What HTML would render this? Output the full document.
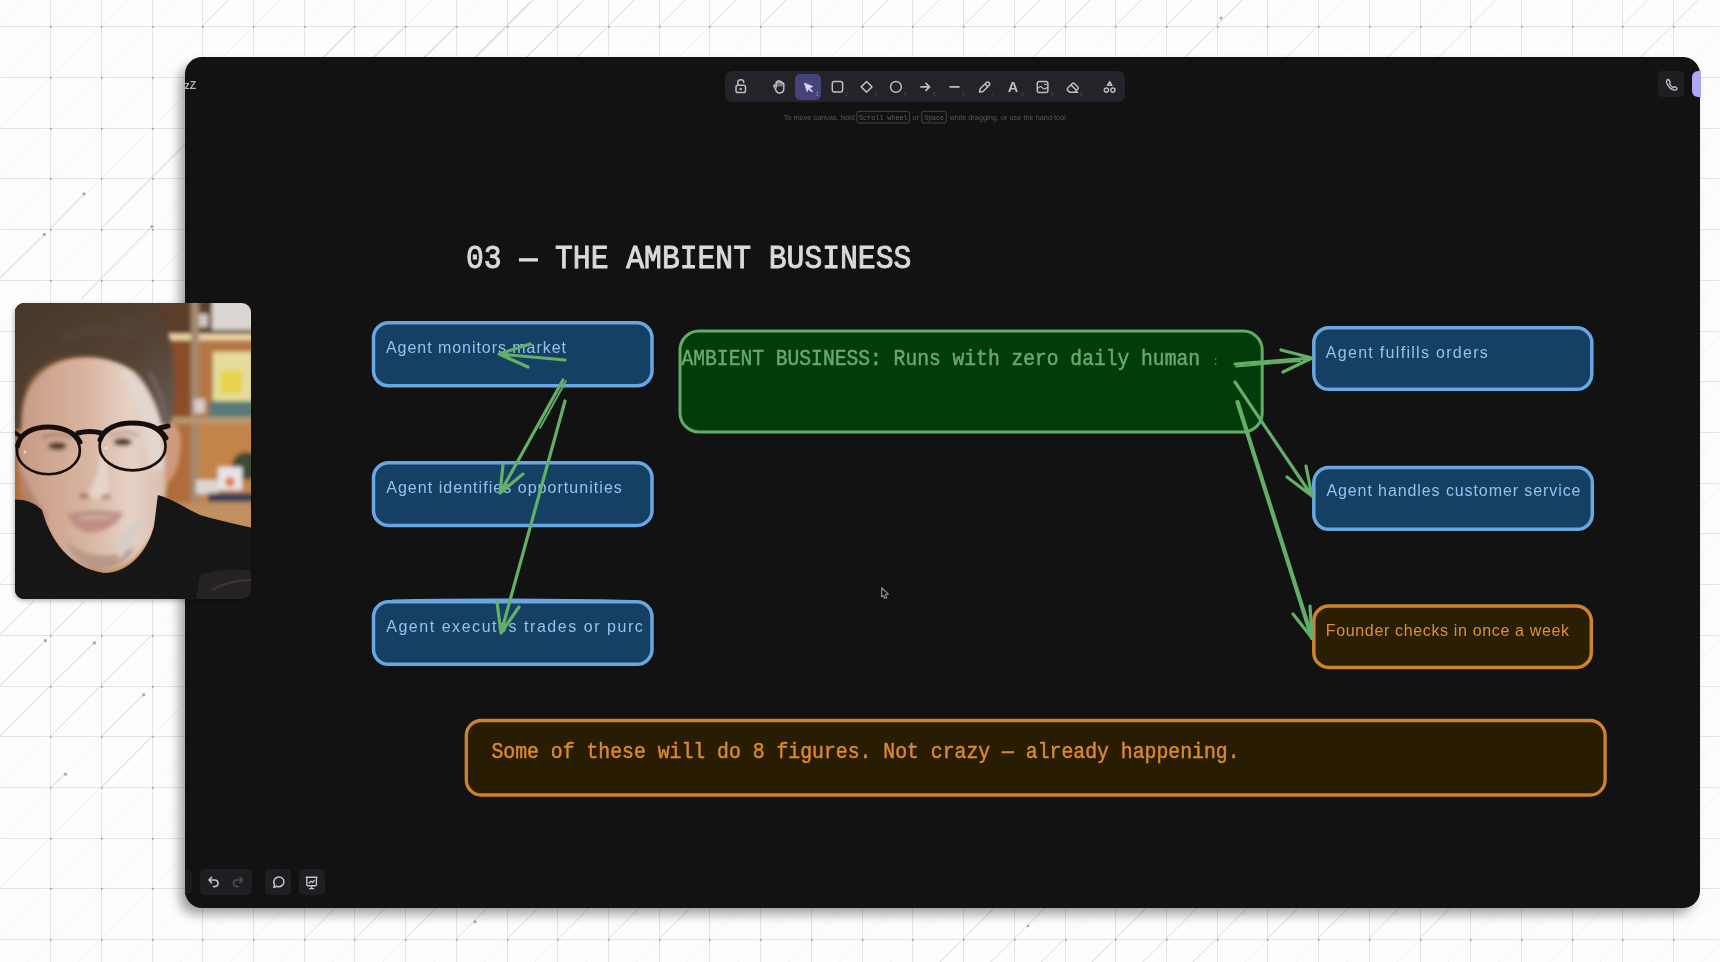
<!DOCTYPE html>
<html><head><meta charset="utf-8">
<style>
html,body{margin:0;padding:0;}
body{width:1720px;height:962px;overflow:hidden;position:relative;background:#fdfdfd;font-family:"Liberation Sans",sans-serif;}
.abs{position:absolute;}
svg{position:absolute;left:0;top:0;will-change:transform;}
#panel{position:absolute;left:185px;top:57px;width:1515px;height:851px;border-radius:17px;background:#121212;box-shadow:-6px 7px 12px -1px rgba(0,0,0,0.38);}
.island{position:absolute;background:#1f1f23;border-radius:4.5px;}
.mono{font-family:"Liberation Mono",monospace;}
.hand{font-family:"Liberation Sans",sans-serif;font-size:18px;}
</style></head>
<body>
<!-- BACKGROUND GRID -->
<svg width="1720" height="962">
  <g stroke="#f3f3f3" stroke-width="1" fill="none"><path d="M-1951.95 0L-2913.95 962"/><path d="M-1901.23 0L-2863.23 962"/><path d="M-1850.51 0L-2812.51 962"/><path d="M-1799.79 0L-2761.79 962"/><path d="M-1749.07 0L-2711.07 962"/><path d="M-1698.35 0L-2660.35 962"/><path d="M-1647.63 0L-2609.63 962"/><path d="M-1596.91 0L-2558.91 962"/><path d="M-1546.19 0L-2508.19 962"/><path d="M-1495.47 0L-2457.47 962"/><path d="M-1444.75 0L-2406.75 962"/><path d="M-1394.03 0L-2356.03 962"/><path d="M-1343.31 0L-2305.31 962"/><path d="M-1292.59 0L-2254.59 962"/><path d="M-1241.87 0L-2203.87 962"/><path d="M-1191.15 0L-2153.15 962"/><path d="M-1140.43 0L-2102.43 962"/><path d="M-1089.71 0L-2051.71 962"/><path d="M-1038.99 0L-2000.99 962"/><path d="M-988.27 0L-1950.27 962"/><path d="M-937.55 0L-1899.55 962"/><path d="M-886.83 0L-1848.83 962"/><path d="M-836.11 0L-1798.11 962"/><path d="M-785.39 0L-1747.39 962"/><path d="M-734.67 0L-1696.67 962"/><path d="M-683.95 0L-1645.95 962"/><path d="M-633.23 0L-1595.23 962"/><path d="M-582.51 0L-1544.51 962"/><path d="M-531.79 0L-1493.79 962"/><path d="M-481.07 0L-1443.07 962"/><path d="M-430.35 0L-1392.35 962"/><path d="M-379.63 0L-1341.63 962"/><path d="M-328.91 0L-1290.91 962"/><path d="M-278.19 0L-1240.19 962"/><path d="M-227.47 0L-1189.47 962"/><path d="M-176.75 0L-1138.75 962"/><path d="M-126.03 0L-1088.03 962"/><path d="M-75.31 0L-1037.31 962"/><path d="M-24.59 0L-986.59 962"/><path d="M26.13 0L-935.87 962"/><path d="M76.85 0L-885.15 962"/><path d="M127.57 0L-834.43 962"/><path d="M178.29 0L-783.71 962"/><path d="M229.01 0L-732.99 962"/><path d="M279.73 0L-682.27 962"/><path d="M330.45 0L-631.55 962"/><path d="M381.17 0L-580.83 962"/><path d="M431.89 0L-530.11 962"/><path d="M482.61 0L-479.39 962"/><path d="M533.33 0L-428.67 962"/><path d="M584.05 0L-377.95 962"/><path d="M634.77 0L-327.23 962"/><path d="M685.49 0L-276.51 962"/><path d="M736.21 0L-225.79 962"/><path d="M786.93 0L-175.07 962"/><path d="M837.65 0L-124.35 962"/><path d="M888.37 0L-73.63 962"/><path d="M939.09 0L-22.91 962"/><path d="M989.81 0L27.81 962"/><path d="M1040.53 0L78.53 962"/><path d="M1091.25 0L129.25 962"/><path d="M1141.97 0L179.97 962"/><path d="M1192.69 0L230.69 962"/><path d="M1243.41 0L281.41 962"/><path d="M1294.13 0L332.13 962"/><path d="M1344.85 0L382.85 962"/><path d="M1395.57 0L433.57 962"/><path d="M1446.29 0L484.29 962"/><path d="M1497.01 0L535.01 962"/><path d="M1547.73 0L585.73 962"/><path d="M1598.45 0L636.45 962"/><path d="M1649.17 0L687.17 962"/><path d="M1699.89 0L737.89 962"/><path d="M1750.61 0L788.61 962"/><path d="M1801.33 0L839.33 962"/><path d="M1852.05 0L890.05 962"/><path d="M1902.77 0L940.77 962"/><path d="M1953.49 0L991.49 962"/><path d="M2004.21 0L1042.21 962"/><path d="M2054.93 0L1092.93 962"/><path d="M2105.65 0L1143.65 962"/><path d="M2156.37 0L1194.37 962"/><path d="M2207.09 0L1245.09 962"/><path d="M2257.81 0L1295.81 962"/><path d="M2308.53 0L1346.53 962"/><path d="M2359.25 0L1397.25 962"/><path d="M2409.97 0L1447.97 962"/><path d="M2460.69 0L1498.69 962"/><path d="M2511.41 0L1549.41 962"/><path d="M2562.13 0L1600.13 962"/><path d="M2612.85 0L1650.85 962"/><path d="M2663.57 0L1701.57 962"/><path d="M2714.29 0L1752.29 962"/><path d="M2765.01 0L1803.01 962"/><path d="M2815.73 0L1853.73 962"/><path d="M2866.45 0L1904.45 962"/><path d="M2917.17 0L1955.17 962"/><path d="M2967.89 0L2005.89 962"/><path d="M3018.61 0L2056.61 962"/><path d="M3069.33 0L2107.33 962"/></g><g stroke="#e4e4e4" stroke-width="1" fill="none"><path d="M50.5 0V962"/><path d="M101.5 0V962"/><path d="M152.5 0V962"/><path d="M202.5 0V962"/><path d="M253.5 0V962"/><path d="M304.5 0V962"/><path d="M354.5 0V962"/><path d="M405.5 0V962"/><path d="M456.5 0V962"/><path d="M507.5 0V962"/><path d="M557.5 0V962"/><path d="M608.5 0V962"/><path d="M659.5 0V962"/><path d="M709.5 0V962"/><path d="M760.5 0V962"/><path d="M811.5 0V962"/><path d="M862.5 0V962"/><path d="M912.5 0V962"/><path d="M963.5 0V962"/><path d="M1014.5 0V962"/><path d="M1065.5 0V962"/><path d="M1115.5 0V962"/><path d="M1166.5 0V962"/><path d="M1217.5 0V962"/><path d="M1267.5 0V962"/><path d="M1318.5 0V962"/><path d="M1369.5 0V962"/><path d="M1420.5 0V962"/><path d="M1470.5 0V962"/><path d="M1521.5 0V962"/><path d="M1572.5 0V962"/><path d="M1622.5 0V962"/><path d="M1673.5 0V962"/><path d="M0 26.5H1720"/><path d="M0 77.5H1720"/><path d="M0 128.5H1720"/><path d="M0 178.5H1720"/><path d="M0 229.5H1720"/><path d="M0 280.5H1720"/><path d="M0 331.5H1720"/><path d="M0 381.5H1720"/><path d="M0 432.5H1720"/><path d="M0 483.5H1720"/><path d="M0 533.5H1720"/><path d="M0 584.5H1720"/><path d="M0 635.5H1720"/><path d="M0 686.5H1720"/><path d="M0 736.5H1720"/><path d="M0 787.5H1720"/><path d="M0 838.5H1720"/><path d="M0 888.5H1720"/><path d="M0 939.5H1720"/></g><g fill="#9a9a9a"><rect x="50.0" y="26.0" width="1.6" height="1.6"/><rect x="50.0" y="77.0" width="1.6" height="1.6"/><rect x="50.0" y="128.0" width="1.6" height="1.6"/><rect x="50.0" y="178.0" width="1.6" height="1.6"/><rect x="50.0" y="229.0" width="1.6" height="1.6"/><rect x="50.0" y="280.0" width="1.6" height="1.6"/><rect x="50.0" y="331.0" width="1.6" height="1.6"/><rect x="50.0" y="381.0" width="1.6" height="1.6"/><rect x="50.0" y="432.0" width="1.6" height="1.6"/><rect x="50.0" y="483.0" width="1.6" height="1.6"/><rect x="50.0" y="533.0" width="1.6" height="1.6"/><rect x="50.0" y="584.0" width="1.6" height="1.6"/><rect x="50.0" y="635.0" width="1.6" height="1.6"/><rect x="50.0" y="686.0" width="1.6" height="1.6"/><rect x="50.0" y="736.0" width="1.6" height="1.6"/><rect x="50.0" y="787.0" width="1.6" height="1.6"/><rect x="50.0" y="838.0" width="1.6" height="1.6"/><rect x="50.0" y="888.0" width="1.6" height="1.6"/><rect x="50.0" y="939.0" width="1.6" height="1.6"/><rect x="101.0" y="26.0" width="1.6" height="1.6"/><rect x="101.0" y="77.0" width="1.6" height="1.6"/><rect x="101.0" y="128.0" width="1.6" height="1.6"/><rect x="101.0" y="178.0" width="1.6" height="1.6"/><rect x="101.0" y="229.0" width="1.6" height="1.6"/><rect x="101.0" y="280.0" width="1.6" height="1.6"/><rect x="101.0" y="331.0" width="1.6" height="1.6"/><rect x="101.0" y="381.0" width="1.6" height="1.6"/><rect x="101.0" y="432.0" width="1.6" height="1.6"/><rect x="101.0" y="483.0" width="1.6" height="1.6"/><rect x="101.0" y="533.0" width="1.6" height="1.6"/><rect x="101.0" y="584.0" width="1.6" height="1.6"/><rect x="101.0" y="635.0" width="1.6" height="1.6"/><rect x="101.0" y="686.0" width="1.6" height="1.6"/><rect x="101.0" y="736.0" width="1.6" height="1.6"/><rect x="101.0" y="787.0" width="1.6" height="1.6"/><rect x="101.0" y="838.0" width="1.6" height="1.6"/><rect x="101.0" y="888.0" width="1.6" height="1.6"/><rect x="101.0" y="939.0" width="1.6" height="1.6"/><rect x="152.0" y="26.0" width="1.6" height="1.6"/><rect x="152.0" y="77.0" width="1.6" height="1.6"/><rect x="152.0" y="128.0" width="1.6" height="1.6"/><rect x="152.0" y="178.0" width="1.6" height="1.6"/><rect x="152.0" y="229.0" width="1.6" height="1.6"/><rect x="152.0" y="280.0" width="1.6" height="1.6"/><rect x="152.0" y="331.0" width="1.6" height="1.6"/><rect x="152.0" y="381.0" width="1.6" height="1.6"/><rect x="152.0" y="432.0" width="1.6" height="1.6"/><rect x="152.0" y="483.0" width="1.6" height="1.6"/><rect x="152.0" y="533.0" width="1.6" height="1.6"/><rect x="152.0" y="584.0" width="1.6" height="1.6"/><rect x="152.0" y="635.0" width="1.6" height="1.6"/><rect x="152.0" y="686.0" width="1.6" height="1.6"/><rect x="152.0" y="736.0" width="1.6" height="1.6"/><rect x="152.0" y="787.0" width="1.6" height="1.6"/><rect x="152.0" y="838.0" width="1.6" height="1.6"/><rect x="152.0" y="888.0" width="1.6" height="1.6"/><rect x="152.0" y="939.0" width="1.6" height="1.6"/><rect x="202.0" y="26.0" width="1.6" height="1.6"/><rect x="202.0" y="77.0" width="1.6" height="1.6"/><rect x="202.0" y="128.0" width="1.6" height="1.6"/><rect x="202.0" y="178.0" width="1.6" height="1.6"/><rect x="202.0" y="229.0" width="1.6" height="1.6"/><rect x="202.0" y="280.0" width="1.6" height="1.6"/><rect x="202.0" y="331.0" width="1.6" height="1.6"/><rect x="202.0" y="381.0" width="1.6" height="1.6"/><rect x="202.0" y="432.0" width="1.6" height="1.6"/><rect x="202.0" y="483.0" width="1.6" height="1.6"/><rect x="202.0" y="533.0" width="1.6" height="1.6"/><rect x="202.0" y="584.0" width="1.6" height="1.6"/><rect x="202.0" y="635.0" width="1.6" height="1.6"/><rect x="202.0" y="686.0" width="1.6" height="1.6"/><rect x="202.0" y="736.0" width="1.6" height="1.6"/><rect x="202.0" y="787.0" width="1.6" height="1.6"/><rect x="202.0" y="838.0" width="1.6" height="1.6"/><rect x="202.0" y="888.0" width="1.6" height="1.6"/><rect x="202.0" y="939.0" width="1.6" height="1.6"/><rect x="253.0" y="26.0" width="1.6" height="1.6"/><rect x="253.0" y="77.0" width="1.6" height="1.6"/><rect x="253.0" y="128.0" width="1.6" height="1.6"/><rect x="253.0" y="178.0" width="1.6" height="1.6"/><rect x="253.0" y="229.0" width="1.6" height="1.6"/><rect x="253.0" y="280.0" width="1.6" height="1.6"/><rect x="253.0" y="331.0" width="1.6" height="1.6"/><rect x="253.0" y="381.0" width="1.6" height="1.6"/><rect x="253.0" y="432.0" width="1.6" height="1.6"/><rect x="253.0" y="483.0" width="1.6" height="1.6"/><rect x="253.0" y="533.0" width="1.6" height="1.6"/><rect x="253.0" y="584.0" width="1.6" height="1.6"/><rect x="253.0" y="635.0" width="1.6" height="1.6"/><rect x="253.0" y="686.0" width="1.6" height="1.6"/><rect x="253.0" y="736.0" width="1.6" height="1.6"/><rect x="253.0" y="787.0" width="1.6" height="1.6"/><rect x="253.0" y="838.0" width="1.6" height="1.6"/><rect x="253.0" y="888.0" width="1.6" height="1.6"/><rect x="253.0" y="939.0" width="1.6" height="1.6"/><rect x="304.0" y="26.0" width="1.6" height="1.6"/><rect x="304.0" y="77.0" width="1.6" height="1.6"/><rect x="304.0" y="128.0" width="1.6" height="1.6"/><rect x="304.0" y="178.0" width="1.6" height="1.6"/><rect x="304.0" y="229.0" width="1.6" height="1.6"/><rect x="304.0" y="280.0" width="1.6" height="1.6"/><rect x="304.0" y="331.0" width="1.6" height="1.6"/><rect x="304.0" y="381.0" width="1.6" height="1.6"/><rect x="304.0" y="432.0" width="1.6" height="1.6"/><rect x="304.0" y="483.0" width="1.6" height="1.6"/><rect x="304.0" y="533.0" width="1.6" height="1.6"/><rect x="304.0" y="584.0" width="1.6" height="1.6"/><rect x="304.0" y="635.0" width="1.6" height="1.6"/><rect x="304.0" y="686.0" width="1.6" height="1.6"/><rect x="304.0" y="736.0" width="1.6" height="1.6"/><rect x="304.0" y="787.0" width="1.6" height="1.6"/><rect x="304.0" y="838.0" width="1.6" height="1.6"/><rect x="304.0" y="888.0" width="1.6" height="1.6"/><rect x="304.0" y="939.0" width="1.6" height="1.6"/><rect x="354.0" y="26.0" width="1.6" height="1.6"/><rect x="354.0" y="77.0" width="1.6" height="1.6"/><rect x="354.0" y="128.0" width="1.6" height="1.6"/><rect x="354.0" y="178.0" width="1.6" height="1.6"/><rect x="354.0" y="229.0" width="1.6" height="1.6"/><rect x="354.0" y="280.0" width="1.6" height="1.6"/><rect x="354.0" y="331.0" width="1.6" height="1.6"/><rect x="354.0" y="381.0" width="1.6" height="1.6"/><rect x="354.0" y="432.0" width="1.6" height="1.6"/><rect x="354.0" y="483.0" width="1.6" height="1.6"/><rect x="354.0" y="533.0" width="1.6" height="1.6"/><rect x="354.0" y="584.0" width="1.6" height="1.6"/><rect x="354.0" y="635.0" width="1.6" height="1.6"/><rect x="354.0" y="686.0" width="1.6" height="1.6"/><rect x="354.0" y="736.0" width="1.6" height="1.6"/><rect x="354.0" y="787.0" width="1.6" height="1.6"/><rect x="354.0" y="838.0" width="1.6" height="1.6"/><rect x="354.0" y="888.0" width="1.6" height="1.6"/><rect x="354.0" y="939.0" width="1.6" height="1.6"/><rect x="405.0" y="26.0" width="1.6" height="1.6"/><rect x="405.0" y="77.0" width="1.6" height="1.6"/><rect x="405.0" y="128.0" width="1.6" height="1.6"/><rect x="405.0" y="178.0" width="1.6" height="1.6"/><rect x="405.0" y="229.0" width="1.6" height="1.6"/><rect x="405.0" y="280.0" width="1.6" height="1.6"/><rect x="405.0" y="331.0" width="1.6" height="1.6"/><rect x="405.0" y="381.0" width="1.6" height="1.6"/><rect x="405.0" y="432.0" width="1.6" height="1.6"/><rect x="405.0" y="483.0" width="1.6" height="1.6"/><rect x="405.0" y="533.0" width="1.6" height="1.6"/><rect x="405.0" y="584.0" width="1.6" height="1.6"/><rect x="405.0" y="635.0" width="1.6" height="1.6"/><rect x="405.0" y="686.0" width="1.6" height="1.6"/><rect x="405.0" y="736.0" width="1.6" height="1.6"/><rect x="405.0" y="787.0" width="1.6" height="1.6"/><rect x="405.0" y="838.0" width="1.6" height="1.6"/><rect x="405.0" y="888.0" width="1.6" height="1.6"/><rect x="405.0" y="939.0" width="1.6" height="1.6"/><rect x="456.0" y="26.0" width="1.6" height="1.6"/><rect x="456.0" y="77.0" width="1.6" height="1.6"/><rect x="456.0" y="128.0" width="1.6" height="1.6"/><rect x="456.0" y="178.0" width="1.6" height="1.6"/><rect x="456.0" y="229.0" width="1.6" height="1.6"/><rect x="456.0" y="280.0" width="1.6" height="1.6"/><rect x="456.0" y="331.0" width="1.6" height="1.6"/><rect x="456.0" y="381.0" width="1.6" height="1.6"/><rect x="456.0" y="432.0" width="1.6" height="1.6"/><rect x="456.0" y="483.0" width="1.6" height="1.6"/><rect x="456.0" y="533.0" width="1.6" height="1.6"/><rect x="456.0" y="584.0" width="1.6" height="1.6"/><rect x="456.0" y="635.0" width="1.6" height="1.6"/><rect x="456.0" y="686.0" width="1.6" height="1.6"/><rect x="456.0" y="736.0" width="1.6" height="1.6"/><rect x="456.0" y="787.0" width="1.6" height="1.6"/><rect x="456.0" y="838.0" width="1.6" height="1.6"/><rect x="456.0" y="888.0" width="1.6" height="1.6"/><rect x="456.0" y="939.0" width="1.6" height="1.6"/><rect x="507.0" y="26.0" width="1.6" height="1.6"/><rect x="507.0" y="77.0" width="1.6" height="1.6"/><rect x="507.0" y="128.0" width="1.6" height="1.6"/><rect x="507.0" y="178.0" width="1.6" height="1.6"/><rect x="507.0" y="229.0" width="1.6" height="1.6"/><rect x="507.0" y="280.0" width="1.6" height="1.6"/><rect x="507.0" y="331.0" width="1.6" height="1.6"/><rect x="507.0" y="381.0" width="1.6" height="1.6"/><rect x="507.0" y="432.0" width="1.6" height="1.6"/><rect x="507.0" y="483.0" width="1.6" height="1.6"/><rect x="507.0" y="533.0" width="1.6" height="1.6"/><rect x="507.0" y="584.0" width="1.6" height="1.6"/><rect x="507.0" y="635.0" width="1.6" height="1.6"/><rect x="507.0" y="686.0" width="1.6" height="1.6"/><rect x="507.0" y="736.0" width="1.6" height="1.6"/><rect x="507.0" y="787.0" width="1.6" height="1.6"/><rect x="507.0" y="838.0" width="1.6" height="1.6"/><rect x="507.0" y="888.0" width="1.6" height="1.6"/><rect x="507.0" y="939.0" width="1.6" height="1.6"/><rect x="557.0" y="26.0" width="1.6" height="1.6"/><rect x="557.0" y="77.0" width="1.6" height="1.6"/><rect x="557.0" y="128.0" width="1.6" height="1.6"/><rect x="557.0" y="178.0" width="1.6" height="1.6"/><rect x="557.0" y="229.0" width="1.6" height="1.6"/><rect x="557.0" y="280.0" width="1.6" height="1.6"/><rect x="557.0" y="331.0" width="1.6" height="1.6"/><rect x="557.0" y="381.0" width="1.6" height="1.6"/><rect x="557.0" y="432.0" width="1.6" height="1.6"/><rect x="557.0" y="483.0" width="1.6" height="1.6"/><rect x="557.0" y="533.0" width="1.6" height="1.6"/><rect x="557.0" y="584.0" width="1.6" height="1.6"/><rect x="557.0" y="635.0" width="1.6" height="1.6"/><rect x="557.0" y="686.0" width="1.6" height="1.6"/><rect x="557.0" y="736.0" width="1.6" height="1.6"/><rect x="557.0" y="787.0" width="1.6" height="1.6"/><rect x="557.0" y="838.0" width="1.6" height="1.6"/><rect x="557.0" y="888.0" width="1.6" height="1.6"/><rect x="557.0" y="939.0" width="1.6" height="1.6"/><rect x="608.0" y="26.0" width="1.6" height="1.6"/><rect x="608.0" y="77.0" width="1.6" height="1.6"/><rect x="608.0" y="128.0" width="1.6" height="1.6"/><rect x="608.0" y="178.0" width="1.6" height="1.6"/><rect x="608.0" y="229.0" width="1.6" height="1.6"/><rect x="608.0" y="280.0" width="1.6" height="1.6"/><rect x="608.0" y="331.0" width="1.6" height="1.6"/><rect x="608.0" y="381.0" width="1.6" height="1.6"/><rect x="608.0" y="432.0" width="1.6" height="1.6"/><rect x="608.0" y="483.0" width="1.6" height="1.6"/><rect x="608.0" y="533.0" width="1.6" height="1.6"/><rect x="608.0" y="584.0" width="1.6" height="1.6"/><rect x="608.0" y="635.0" width="1.6" height="1.6"/><rect x="608.0" y="686.0" width="1.6" height="1.6"/><rect x="608.0" y="736.0" width="1.6" height="1.6"/><rect x="608.0" y="787.0" width="1.6" height="1.6"/><rect x="608.0" y="838.0" width="1.6" height="1.6"/><rect x="608.0" y="888.0" width="1.6" height="1.6"/><rect x="608.0" y="939.0" width="1.6" height="1.6"/><rect x="659.0" y="26.0" width="1.6" height="1.6"/><rect x="659.0" y="77.0" width="1.6" height="1.6"/><rect x="659.0" y="128.0" width="1.6" height="1.6"/><rect x="659.0" y="178.0" width="1.6" height="1.6"/><rect x="659.0" y="229.0" width="1.6" height="1.6"/><rect x="659.0" y="280.0" width="1.6" height="1.6"/><rect x="659.0" y="331.0" width="1.6" height="1.6"/><rect x="659.0" y="381.0" width="1.6" height="1.6"/><rect x="659.0" y="432.0" width="1.6" height="1.6"/><rect x="659.0" y="483.0" width="1.6" height="1.6"/><rect x="659.0" y="533.0" width="1.6" height="1.6"/><rect x="659.0" y="584.0" width="1.6" height="1.6"/><rect x="659.0" y="635.0" width="1.6" height="1.6"/><rect x="659.0" y="686.0" width="1.6" height="1.6"/><rect x="659.0" y="736.0" width="1.6" height="1.6"/><rect x="659.0" y="787.0" width="1.6" height="1.6"/><rect x="659.0" y="838.0" width="1.6" height="1.6"/><rect x="659.0" y="888.0" width="1.6" height="1.6"/><rect x="659.0" y="939.0" width="1.6" height="1.6"/><rect x="709.0" y="26.0" width="1.6" height="1.6"/><rect x="709.0" y="77.0" width="1.6" height="1.6"/><rect x="709.0" y="128.0" width="1.6" height="1.6"/><rect x="709.0" y="178.0" width="1.6" height="1.6"/><rect x="709.0" y="229.0" width="1.6" height="1.6"/><rect x="709.0" y="280.0" width="1.6" height="1.6"/><rect x="709.0" y="331.0" width="1.6" height="1.6"/><rect x="709.0" y="381.0" width="1.6" height="1.6"/><rect x="709.0" y="432.0" width="1.6" height="1.6"/><rect x="709.0" y="483.0" width="1.6" height="1.6"/><rect x="709.0" y="533.0" width="1.6" height="1.6"/><rect x="709.0" y="584.0" width="1.6" height="1.6"/><rect x="709.0" y="635.0" width="1.6" height="1.6"/><rect x="709.0" y="686.0" width="1.6" height="1.6"/><rect x="709.0" y="736.0" width="1.6" height="1.6"/><rect x="709.0" y="787.0" width="1.6" height="1.6"/><rect x="709.0" y="838.0" width="1.6" height="1.6"/><rect x="709.0" y="888.0" width="1.6" height="1.6"/><rect x="709.0" y="939.0" width="1.6" height="1.6"/><rect x="760.0" y="26.0" width="1.6" height="1.6"/><rect x="760.0" y="77.0" width="1.6" height="1.6"/><rect x="760.0" y="128.0" width="1.6" height="1.6"/><rect x="760.0" y="178.0" width="1.6" height="1.6"/><rect x="760.0" y="229.0" width="1.6" height="1.6"/><rect x="760.0" y="280.0" width="1.6" height="1.6"/><rect x="760.0" y="331.0" width="1.6" height="1.6"/><rect x="760.0" y="381.0" width="1.6" height="1.6"/><rect x="760.0" y="432.0" width="1.6" height="1.6"/><rect x="760.0" y="483.0" width="1.6" height="1.6"/><rect x="760.0" y="533.0" width="1.6" height="1.6"/><rect x="760.0" y="584.0" width="1.6" height="1.6"/><rect x="760.0" y="635.0" width="1.6" height="1.6"/><rect x="760.0" y="686.0" width="1.6" height="1.6"/><rect x="760.0" y="736.0" width="1.6" height="1.6"/><rect x="760.0" y="787.0" width="1.6" height="1.6"/><rect x="760.0" y="838.0" width="1.6" height="1.6"/><rect x="760.0" y="888.0" width="1.6" height="1.6"/><rect x="760.0" y="939.0" width="1.6" height="1.6"/><rect x="811.0" y="26.0" width="1.6" height="1.6"/><rect x="811.0" y="77.0" width="1.6" height="1.6"/><rect x="811.0" y="128.0" width="1.6" height="1.6"/><rect x="811.0" y="178.0" width="1.6" height="1.6"/><rect x="811.0" y="229.0" width="1.6" height="1.6"/><rect x="811.0" y="280.0" width="1.6" height="1.6"/><rect x="811.0" y="331.0" width="1.6" height="1.6"/><rect x="811.0" y="381.0" width="1.6" height="1.6"/><rect x="811.0" y="432.0" width="1.6" height="1.6"/><rect x="811.0" y="483.0" width="1.6" height="1.6"/><rect x="811.0" y="533.0" width="1.6" height="1.6"/><rect x="811.0" y="584.0" width="1.6" height="1.6"/><rect x="811.0" y="635.0" width="1.6" height="1.6"/><rect x="811.0" y="686.0" width="1.6" height="1.6"/><rect x="811.0" y="736.0" width="1.6" height="1.6"/><rect x="811.0" y="787.0" width="1.6" height="1.6"/><rect x="811.0" y="838.0" width="1.6" height="1.6"/><rect x="811.0" y="888.0" width="1.6" height="1.6"/><rect x="811.0" y="939.0" width="1.6" height="1.6"/><rect x="862.0" y="26.0" width="1.6" height="1.6"/><rect x="862.0" y="77.0" width="1.6" height="1.6"/><rect x="862.0" y="128.0" width="1.6" height="1.6"/><rect x="862.0" y="178.0" width="1.6" height="1.6"/><rect x="862.0" y="229.0" width="1.6" height="1.6"/><rect x="862.0" y="280.0" width="1.6" height="1.6"/><rect x="862.0" y="331.0" width="1.6" height="1.6"/><rect x="862.0" y="381.0" width="1.6" height="1.6"/><rect x="862.0" y="432.0" width="1.6" height="1.6"/><rect x="862.0" y="483.0" width="1.6" height="1.6"/><rect x="862.0" y="533.0" width="1.6" height="1.6"/><rect x="862.0" y="584.0" width="1.6" height="1.6"/><rect x="862.0" y="635.0" width="1.6" height="1.6"/><rect x="862.0" y="686.0" width="1.6" height="1.6"/><rect x="862.0" y="736.0" width="1.6" height="1.6"/><rect x="862.0" y="787.0" width="1.6" height="1.6"/><rect x="862.0" y="838.0" width="1.6" height="1.6"/><rect x="862.0" y="888.0" width="1.6" height="1.6"/><rect x="862.0" y="939.0" width="1.6" height="1.6"/><rect x="912.0" y="26.0" width="1.6" height="1.6"/><rect x="912.0" y="77.0" width="1.6" height="1.6"/><rect x="912.0" y="128.0" width="1.6" height="1.6"/><rect x="912.0" y="178.0" width="1.6" height="1.6"/><rect x="912.0" y="229.0" width="1.6" height="1.6"/><rect x="912.0" y="280.0" width="1.6" height="1.6"/><rect x="912.0" y="331.0" width="1.6" height="1.6"/><rect x="912.0" y="381.0" width="1.6" height="1.6"/><rect x="912.0" y="432.0" width="1.6" height="1.6"/><rect x="912.0" y="483.0" width="1.6" height="1.6"/><rect x="912.0" y="533.0" width="1.6" height="1.6"/><rect x="912.0" y="584.0" width="1.6" height="1.6"/><rect x="912.0" y="635.0" width="1.6" height="1.6"/><rect x="912.0" y="686.0" width="1.6" height="1.6"/><rect x="912.0" y="736.0" width="1.6" height="1.6"/><rect x="912.0" y="787.0" width="1.6" height="1.6"/><rect x="912.0" y="838.0" width="1.6" height="1.6"/><rect x="912.0" y="888.0" width="1.6" height="1.6"/><rect x="912.0" y="939.0" width="1.6" height="1.6"/><rect x="963.0" y="26.0" width="1.6" height="1.6"/><rect x="963.0" y="77.0" width="1.6" height="1.6"/><rect x="963.0" y="128.0" width="1.6" height="1.6"/><rect x="963.0" y="178.0" width="1.6" height="1.6"/><rect x="963.0" y="229.0" width="1.6" height="1.6"/><rect x="963.0" y="280.0" width="1.6" height="1.6"/><rect x="963.0" y="331.0" width="1.6" height="1.6"/><rect x="963.0" y="381.0" width="1.6" height="1.6"/><rect x="963.0" y="432.0" width="1.6" height="1.6"/><rect x="963.0" y="483.0" width="1.6" height="1.6"/><rect x="963.0" y="533.0" width="1.6" height="1.6"/><rect x="963.0" y="584.0" width="1.6" height="1.6"/><rect x="963.0" y="635.0" width="1.6" height="1.6"/><rect x="963.0" y="686.0" width="1.6" height="1.6"/><rect x="963.0" y="736.0" width="1.6" height="1.6"/><rect x="963.0" y="787.0" width="1.6" height="1.6"/><rect x="963.0" y="838.0" width="1.6" height="1.6"/><rect x="963.0" y="888.0" width="1.6" height="1.6"/><rect x="963.0" y="939.0" width="1.6" height="1.6"/><rect x="1014.0" y="26.0" width="1.6" height="1.6"/><rect x="1014.0" y="77.0" width="1.6" height="1.6"/><rect x="1014.0" y="128.0" width="1.6" height="1.6"/><rect x="1014.0" y="178.0" width="1.6" height="1.6"/><rect x="1014.0" y="229.0" width="1.6" height="1.6"/><rect x="1014.0" y="280.0" width="1.6" height="1.6"/><rect x="1014.0" y="331.0" width="1.6" height="1.6"/><rect x="1014.0" y="381.0" width="1.6" height="1.6"/><rect x="1014.0" y="432.0" width="1.6" height="1.6"/><rect x="1014.0" y="483.0" width="1.6" height="1.6"/><rect x="1014.0" y="533.0" width="1.6" height="1.6"/><rect x="1014.0" y="584.0" width="1.6" height="1.6"/><rect x="1014.0" y="635.0" width="1.6" height="1.6"/><rect x="1014.0" y="686.0" width="1.6" height="1.6"/><rect x="1014.0" y="736.0" width="1.6" height="1.6"/><rect x="1014.0" y="787.0" width="1.6" height="1.6"/><rect x="1014.0" y="838.0" width="1.6" height="1.6"/><rect x="1014.0" y="888.0" width="1.6" height="1.6"/><rect x="1014.0" y="939.0" width="1.6" height="1.6"/><rect x="1065.0" y="26.0" width="1.6" height="1.6"/><rect x="1065.0" y="77.0" width="1.6" height="1.6"/><rect x="1065.0" y="128.0" width="1.6" height="1.6"/><rect x="1065.0" y="178.0" width="1.6" height="1.6"/><rect x="1065.0" y="229.0" width="1.6" height="1.6"/><rect x="1065.0" y="280.0" width="1.6" height="1.6"/><rect x="1065.0" y="331.0" width="1.6" height="1.6"/><rect x="1065.0" y="381.0" width="1.6" height="1.6"/><rect x="1065.0" y="432.0" width="1.6" height="1.6"/><rect x="1065.0" y="483.0" width="1.6" height="1.6"/><rect x="1065.0" y="533.0" width="1.6" height="1.6"/><rect x="1065.0" y="584.0" width="1.6" height="1.6"/><rect x="1065.0" y="635.0" width="1.6" height="1.6"/><rect x="1065.0" y="686.0" width="1.6" height="1.6"/><rect x="1065.0" y="736.0" width="1.6" height="1.6"/><rect x="1065.0" y="787.0" width="1.6" height="1.6"/><rect x="1065.0" y="838.0" width="1.6" height="1.6"/><rect x="1065.0" y="888.0" width="1.6" height="1.6"/><rect x="1065.0" y="939.0" width="1.6" height="1.6"/><rect x="1115.0" y="26.0" width="1.6" height="1.6"/><rect x="1115.0" y="77.0" width="1.6" height="1.6"/><rect x="1115.0" y="128.0" width="1.6" height="1.6"/><rect x="1115.0" y="178.0" width="1.6" height="1.6"/><rect x="1115.0" y="229.0" width="1.6" height="1.6"/><rect x="1115.0" y="280.0" width="1.6" height="1.6"/><rect x="1115.0" y="331.0" width="1.6" height="1.6"/><rect x="1115.0" y="381.0" width="1.6" height="1.6"/><rect x="1115.0" y="432.0" width="1.6" height="1.6"/><rect x="1115.0" y="483.0" width="1.6" height="1.6"/><rect x="1115.0" y="533.0" width="1.6" height="1.6"/><rect x="1115.0" y="584.0" width="1.6" height="1.6"/><rect x="1115.0" y="635.0" width="1.6" height="1.6"/><rect x="1115.0" y="686.0" width="1.6" height="1.6"/><rect x="1115.0" y="736.0" width="1.6" height="1.6"/><rect x="1115.0" y="787.0" width="1.6" height="1.6"/><rect x="1115.0" y="838.0" width="1.6" height="1.6"/><rect x="1115.0" y="888.0" width="1.6" height="1.6"/><rect x="1115.0" y="939.0" width="1.6" height="1.6"/><rect x="1166.0" y="26.0" width="1.6" height="1.6"/><rect x="1166.0" y="77.0" width="1.6" height="1.6"/><rect x="1166.0" y="128.0" width="1.6" height="1.6"/><rect x="1166.0" y="178.0" width="1.6" height="1.6"/><rect x="1166.0" y="229.0" width="1.6" height="1.6"/><rect x="1166.0" y="280.0" width="1.6" height="1.6"/><rect x="1166.0" y="331.0" width="1.6" height="1.6"/><rect x="1166.0" y="381.0" width="1.6" height="1.6"/><rect x="1166.0" y="432.0" width="1.6" height="1.6"/><rect x="1166.0" y="483.0" width="1.6" height="1.6"/><rect x="1166.0" y="533.0" width="1.6" height="1.6"/><rect x="1166.0" y="584.0" width="1.6" height="1.6"/><rect x="1166.0" y="635.0" width="1.6" height="1.6"/><rect x="1166.0" y="686.0" width="1.6" height="1.6"/><rect x="1166.0" y="736.0" width="1.6" height="1.6"/><rect x="1166.0" y="787.0" width="1.6" height="1.6"/><rect x="1166.0" y="838.0" width="1.6" height="1.6"/><rect x="1166.0" y="888.0" width="1.6" height="1.6"/><rect x="1166.0" y="939.0" width="1.6" height="1.6"/><rect x="1217.0" y="26.0" width="1.6" height="1.6"/><rect x="1217.0" y="77.0" width="1.6" height="1.6"/><rect x="1217.0" y="128.0" width="1.6" height="1.6"/><rect x="1217.0" y="178.0" width="1.6" height="1.6"/><rect x="1217.0" y="229.0" width="1.6" height="1.6"/><rect x="1217.0" y="280.0" width="1.6" height="1.6"/><rect x="1217.0" y="331.0" width="1.6" height="1.6"/><rect x="1217.0" y="381.0" width="1.6" height="1.6"/><rect x="1217.0" y="432.0" width="1.6" height="1.6"/><rect x="1217.0" y="483.0" width="1.6" height="1.6"/><rect x="1217.0" y="533.0" width="1.6" height="1.6"/><rect x="1217.0" y="584.0" width="1.6" height="1.6"/><rect x="1217.0" y="635.0" width="1.6" height="1.6"/><rect x="1217.0" y="686.0" width="1.6" height="1.6"/><rect x="1217.0" y="736.0" width="1.6" height="1.6"/><rect x="1217.0" y="787.0" width="1.6" height="1.6"/><rect x="1217.0" y="838.0" width="1.6" height="1.6"/><rect x="1217.0" y="888.0" width="1.6" height="1.6"/><rect x="1217.0" y="939.0" width="1.6" height="1.6"/><rect x="1267.0" y="26.0" width="1.6" height="1.6"/><rect x="1267.0" y="77.0" width="1.6" height="1.6"/><rect x="1267.0" y="128.0" width="1.6" height="1.6"/><rect x="1267.0" y="178.0" width="1.6" height="1.6"/><rect x="1267.0" y="229.0" width="1.6" height="1.6"/><rect x="1267.0" y="280.0" width="1.6" height="1.6"/><rect x="1267.0" y="331.0" width="1.6" height="1.6"/><rect x="1267.0" y="381.0" width="1.6" height="1.6"/><rect x="1267.0" y="432.0" width="1.6" height="1.6"/><rect x="1267.0" y="483.0" width="1.6" height="1.6"/><rect x="1267.0" y="533.0" width="1.6" height="1.6"/><rect x="1267.0" y="584.0" width="1.6" height="1.6"/><rect x="1267.0" y="635.0" width="1.6" height="1.6"/><rect x="1267.0" y="686.0" width="1.6" height="1.6"/><rect x="1267.0" y="736.0" width="1.6" height="1.6"/><rect x="1267.0" y="787.0" width="1.6" height="1.6"/><rect x="1267.0" y="838.0" width="1.6" height="1.6"/><rect x="1267.0" y="888.0" width="1.6" height="1.6"/><rect x="1267.0" y="939.0" width="1.6" height="1.6"/><rect x="1318.0" y="26.0" width="1.6" height="1.6"/><rect x="1318.0" y="77.0" width="1.6" height="1.6"/><rect x="1318.0" y="128.0" width="1.6" height="1.6"/><rect x="1318.0" y="178.0" width="1.6" height="1.6"/><rect x="1318.0" y="229.0" width="1.6" height="1.6"/><rect x="1318.0" y="280.0" width="1.6" height="1.6"/><rect x="1318.0" y="331.0" width="1.6" height="1.6"/><rect x="1318.0" y="381.0" width="1.6" height="1.6"/><rect x="1318.0" y="432.0" width="1.6" height="1.6"/><rect x="1318.0" y="483.0" width="1.6" height="1.6"/><rect x="1318.0" y="533.0" width="1.6" height="1.6"/><rect x="1318.0" y="584.0" width="1.6" height="1.6"/><rect x="1318.0" y="635.0" width="1.6" height="1.6"/><rect x="1318.0" y="686.0" width="1.6" height="1.6"/><rect x="1318.0" y="736.0" width="1.6" height="1.6"/><rect x="1318.0" y="787.0" width="1.6" height="1.6"/><rect x="1318.0" y="838.0" width="1.6" height="1.6"/><rect x="1318.0" y="888.0" width="1.6" height="1.6"/><rect x="1318.0" y="939.0" width="1.6" height="1.6"/><rect x="1369.0" y="26.0" width="1.6" height="1.6"/><rect x="1369.0" y="77.0" width="1.6" height="1.6"/><rect x="1369.0" y="128.0" width="1.6" height="1.6"/><rect x="1369.0" y="178.0" width="1.6" height="1.6"/><rect x="1369.0" y="229.0" width="1.6" height="1.6"/><rect x="1369.0" y="280.0" width="1.6" height="1.6"/><rect x="1369.0" y="331.0" width="1.6" height="1.6"/><rect x="1369.0" y="381.0" width="1.6" height="1.6"/><rect x="1369.0" y="432.0" width="1.6" height="1.6"/><rect x="1369.0" y="483.0" width="1.6" height="1.6"/><rect x="1369.0" y="533.0" width="1.6" height="1.6"/><rect x="1369.0" y="584.0" width="1.6" height="1.6"/><rect x="1369.0" y="635.0" width="1.6" height="1.6"/><rect x="1369.0" y="686.0" width="1.6" height="1.6"/><rect x="1369.0" y="736.0" width="1.6" height="1.6"/><rect x="1369.0" y="787.0" width="1.6" height="1.6"/><rect x="1369.0" y="838.0" width="1.6" height="1.6"/><rect x="1369.0" y="888.0" width="1.6" height="1.6"/><rect x="1369.0" y="939.0" width="1.6" height="1.6"/><rect x="1420.0" y="26.0" width="1.6" height="1.6"/><rect x="1420.0" y="77.0" width="1.6" height="1.6"/><rect x="1420.0" y="128.0" width="1.6" height="1.6"/><rect x="1420.0" y="178.0" width="1.6" height="1.6"/><rect x="1420.0" y="229.0" width="1.6" height="1.6"/><rect x="1420.0" y="280.0" width="1.6" height="1.6"/><rect x="1420.0" y="331.0" width="1.6" height="1.6"/><rect x="1420.0" y="381.0" width="1.6" height="1.6"/><rect x="1420.0" y="432.0" width="1.6" height="1.6"/><rect x="1420.0" y="483.0" width="1.6" height="1.6"/><rect x="1420.0" y="533.0" width="1.6" height="1.6"/><rect x="1420.0" y="584.0" width="1.6" height="1.6"/><rect x="1420.0" y="635.0" width="1.6" height="1.6"/><rect x="1420.0" y="686.0" width="1.6" height="1.6"/><rect x="1420.0" y="736.0" width="1.6" height="1.6"/><rect x="1420.0" y="787.0" width="1.6" height="1.6"/><rect x="1420.0" y="838.0" width="1.6" height="1.6"/><rect x="1420.0" y="888.0" width="1.6" height="1.6"/><rect x="1420.0" y="939.0" width="1.6" height="1.6"/><rect x="1470.0" y="26.0" width="1.6" height="1.6"/><rect x="1470.0" y="77.0" width="1.6" height="1.6"/><rect x="1470.0" y="128.0" width="1.6" height="1.6"/><rect x="1470.0" y="178.0" width="1.6" height="1.6"/><rect x="1470.0" y="229.0" width="1.6" height="1.6"/><rect x="1470.0" y="280.0" width="1.6" height="1.6"/><rect x="1470.0" y="331.0" width="1.6" height="1.6"/><rect x="1470.0" y="381.0" width="1.6" height="1.6"/><rect x="1470.0" y="432.0" width="1.6" height="1.6"/><rect x="1470.0" y="483.0" width="1.6" height="1.6"/><rect x="1470.0" y="533.0" width="1.6" height="1.6"/><rect x="1470.0" y="584.0" width="1.6" height="1.6"/><rect x="1470.0" y="635.0" width="1.6" height="1.6"/><rect x="1470.0" y="686.0" width="1.6" height="1.6"/><rect x="1470.0" y="736.0" width="1.6" height="1.6"/><rect x="1470.0" y="787.0" width="1.6" height="1.6"/><rect x="1470.0" y="838.0" width="1.6" height="1.6"/><rect x="1470.0" y="888.0" width="1.6" height="1.6"/><rect x="1470.0" y="939.0" width="1.6" height="1.6"/><rect x="1521.0" y="26.0" width="1.6" height="1.6"/><rect x="1521.0" y="77.0" width="1.6" height="1.6"/><rect x="1521.0" y="128.0" width="1.6" height="1.6"/><rect x="1521.0" y="178.0" width="1.6" height="1.6"/><rect x="1521.0" y="229.0" width="1.6" height="1.6"/><rect x="1521.0" y="280.0" width="1.6" height="1.6"/><rect x="1521.0" y="331.0" width="1.6" height="1.6"/><rect x="1521.0" y="381.0" width="1.6" height="1.6"/><rect x="1521.0" y="432.0" width="1.6" height="1.6"/><rect x="1521.0" y="483.0" width="1.6" height="1.6"/><rect x="1521.0" y="533.0" width="1.6" height="1.6"/><rect x="1521.0" y="584.0" width="1.6" height="1.6"/><rect x="1521.0" y="635.0" width="1.6" height="1.6"/><rect x="1521.0" y="686.0" width="1.6" height="1.6"/><rect x="1521.0" y="736.0" width="1.6" height="1.6"/><rect x="1521.0" y="787.0" width="1.6" height="1.6"/><rect x="1521.0" y="838.0" width="1.6" height="1.6"/><rect x="1521.0" y="888.0" width="1.6" height="1.6"/><rect x="1521.0" y="939.0" width="1.6" height="1.6"/><rect x="1572.0" y="26.0" width="1.6" height="1.6"/><rect x="1572.0" y="77.0" width="1.6" height="1.6"/><rect x="1572.0" y="128.0" width="1.6" height="1.6"/><rect x="1572.0" y="178.0" width="1.6" height="1.6"/><rect x="1572.0" y="229.0" width="1.6" height="1.6"/><rect x="1572.0" y="280.0" width="1.6" height="1.6"/><rect x="1572.0" y="331.0" width="1.6" height="1.6"/><rect x="1572.0" y="381.0" width="1.6" height="1.6"/><rect x="1572.0" y="432.0" width="1.6" height="1.6"/><rect x="1572.0" y="483.0" width="1.6" height="1.6"/><rect x="1572.0" y="533.0" width="1.6" height="1.6"/><rect x="1572.0" y="584.0" width="1.6" height="1.6"/><rect x="1572.0" y="635.0" width="1.6" height="1.6"/><rect x="1572.0" y="686.0" width="1.6" height="1.6"/><rect x="1572.0" y="736.0" width="1.6" height="1.6"/><rect x="1572.0" y="787.0" width="1.6" height="1.6"/><rect x="1572.0" y="838.0" width="1.6" height="1.6"/><rect x="1572.0" y="888.0" width="1.6" height="1.6"/><rect x="1572.0" y="939.0" width="1.6" height="1.6"/><rect x="1622.0" y="26.0" width="1.6" height="1.6"/><rect x="1622.0" y="77.0" width="1.6" height="1.6"/><rect x="1622.0" y="128.0" width="1.6" height="1.6"/><rect x="1622.0" y="178.0" width="1.6" height="1.6"/><rect x="1622.0" y="229.0" width="1.6" height="1.6"/><rect x="1622.0" y="280.0" width="1.6" height="1.6"/><rect x="1622.0" y="331.0" width="1.6" height="1.6"/><rect x="1622.0" y="381.0" width="1.6" height="1.6"/><rect x="1622.0" y="432.0" width="1.6" height="1.6"/><rect x="1622.0" y="483.0" width="1.6" height="1.6"/><rect x="1622.0" y="533.0" width="1.6" height="1.6"/><rect x="1622.0" y="584.0" width="1.6" height="1.6"/><rect x="1622.0" y="635.0" width="1.6" height="1.6"/><rect x="1622.0" y="686.0" width="1.6" height="1.6"/><rect x="1622.0" y="736.0" width="1.6" height="1.6"/><rect x="1622.0" y="787.0" width="1.6" height="1.6"/><rect x="1622.0" y="838.0" width="1.6" height="1.6"/><rect x="1622.0" y="888.0" width="1.6" height="1.6"/><rect x="1622.0" y="939.0" width="1.6" height="1.6"/><rect x="1673.0" y="26.0" width="1.6" height="1.6"/><rect x="1673.0" y="77.0" width="1.6" height="1.6"/><rect x="1673.0" y="128.0" width="1.6" height="1.6"/><rect x="1673.0" y="178.0" width="1.6" height="1.6"/><rect x="1673.0" y="229.0" width="1.6" height="1.6"/><rect x="1673.0" y="280.0" width="1.6" height="1.6"/><rect x="1673.0" y="331.0" width="1.6" height="1.6"/><rect x="1673.0" y="381.0" width="1.6" height="1.6"/><rect x="1673.0" y="432.0" width="1.6" height="1.6"/><rect x="1673.0" y="483.0" width="1.6" height="1.6"/><rect x="1673.0" y="533.0" width="1.6" height="1.6"/><rect x="1673.0" y="584.0" width="1.6" height="1.6"/><rect x="1673.0" y="635.0" width="1.6" height="1.6"/><rect x="1673.0" y="686.0" width="1.6" height="1.6"/><rect x="1673.0" y="736.0" width="1.6" height="1.6"/><rect x="1673.0" y="787.0" width="1.6" height="1.6"/><rect x="1673.0" y="838.0" width="1.6" height="1.6"/><rect x="1673.0" y="888.0" width="1.6" height="1.6"/><rect x="1673.0" y="939.0" width="1.6" height="1.6"/></g>
  <g stroke="#dcdcdc" stroke-width="1" fill="none"><path d="M202.0 26.2L228.2 0.0"/><path d="M507.0 26.2L533.2 0.0"/><path d="M557.6 26.2L583.9 0.0"/><path d="M608.0 26.2L634.2 0.0"/><path d="M659.0 26.2L685.2 0.0"/><path d="M710.0 26.2L736.2 0.0"/><path d="M760.0 26.2L786.2 0.0"/><path d="M862.0 26.2L888.2 0.0"/><path d="M913.0 26.2L939.2 0.0"/><path d="M962.7 26.2L989.0 0.0"/><path d="M1013.5 26.2L1039.8 0.0"/><path d="M1064.0 26.2L1090.2 0.0"/><path d="M1114.6 26.2L1140.8 0.0"/><path d="M1165.4 26.2L1191.7 0.0"/><path d="M1215.7 26.2L1242.0 0.0"/><path d="M1469.0 26.2L1495.2 0.0"/><path d="M1621.0 26.2L1647.2 0.0"/><path d="M1671.5 26.2L1697.8 0.0"/><path d="M303.7 77.0L354.4 26.2"/><path d="M354.3 77.0L405.0 26.2"/><path d="M405.3 77.0L456.0 26.2"/><path d="M456.3 77.0L507.0 26.2"/><path d="M506.9 77.0L557.6 26.2"/><path d="M557.3 77.0L608.0 26.2"/><path d="M1013.3 77.0L1064.0 26.2"/><path d="M1165.0 77.0L1215.7 26.2"/><path d="M1266.3 77.0L1317.0 26.2"/><path d="M1367.7 77.0L1418.4 26.2"/><path d="M1418.3 77.0L1469.0 26.2"/><path d="M1620.8 77.0L1671.5 26.2"/><path d="M304.0 939.2L354.7 888.5"/><path d="M354.4 939.2L405.1 888.5"/><path d="M405.0 939.2L455.7 888.5"/><path d="M456.0 939.2L506.7 888.5"/><path d="M507.0 939.2L557.7 888.5"/><path d="M557.6 939.2L608.3 888.5"/><path d="M608.0 939.2L658.7 888.5"/><path d="M659.0 939.2L709.7 888.5"/><path d="M962.7 939.2L1013.4 888.5"/><path d="M1013.5 939.2L1064.2 888.5"/><path d="M1114.6 939.2L1165.3 888.5"/><path d="M1165.4 939.2L1216.1 888.5"/><path d="M1215.7 939.2L1266.4 888.5"/><path d="M1266.5 939.2L1317.2 888.5"/><path d="M1317.0 939.2L1367.7 888.5"/><path d="M1367.7 939.2L1418.4 888.5"/><path d="M1418.4 939.2L1469.1 888.5"/><path d="M939.9 962.0L962.7 939.2"/><path d="M990.7 962.0L1013.5 939.2"/><path d="M1041.2 962.0L1064.0 939.2"/><path d="M1091.8 962.0L1114.6 939.2"/><path d="M1142.6 962.0L1165.4 939.2"/><path d="M1192.9 962.0L1215.7 939.2"/></g><g id="diag" stroke="#d4d4d4" stroke-width="1" fill="none"><path d="M0 277.8L44.3 234.4"/><path d="M50.7 228L84 193.9"/><path d="M101.4 228L185 144"/><path d="M80.8 299L152 226.5"/><path d="M0 685.5L45.4 640.7"/><path d="M50.7 685.5L94.4 642.9"/><path d="M101.1 685.5L152.2 634.8"/><path d="M0 736.4L50.7 685.5"/><path d="M50.7 736.4L101.1 685.5"/><path d="M101.1 736.4L143.7 694.8"/><path d="M50.7 787.7L65.5 774.1"/><path d="M101.1 787.7L152.2 736.4"/><path d="M0 634.8L33.9 600.9"/><path d="M50.7 634.8L84 602"/><path d="M324 57L354.4 26.3"/><path d="M374 57L405 26.3"/><path d="M424 57L456 26.3"/><path d="M475 57L530 2"/><path d="M526.5 57L580 3.5"/></g><g fill="#a8a8a8"><circle cx="475" cy="921.8" r="1.5"/><circle cx="1028" cy="926" r="1.3"/><circle cx="1221" cy="18" r="1.5"/><circle cx="44.3" cy="234.4" r="1.6"/><circle cx="84" cy="193.9" r="1.6"/><circle cx="152" cy="226.5" r="1.6"/><circle cx="45.4" cy="640.7" r="1.6"/><circle cx="94.4" cy="642.9" r="1.6"/><circle cx="143.7" cy="694.8" r="1.6"/><circle cx="65.5" cy="774.1" r="1.6"/></g>
</svg>

<div id="panel"></div>

<!-- DIAGRAM -->
<svg width="1720" height="962">
  <g>
  <!-- left boxes -->
  <rect x="373.5" y="322.8" width="278.5" height="63" rx="15" fill="#153f63" stroke="#68a7e2" stroke-width="3.5"/>
  <rect x="373.5" y="462.8" width="278.5" height="62.7" rx="15" fill="#153f63" stroke="#68a7e2" stroke-width="3.5"/>
  <rect x="373.5" y="601.8" width="278.5" height="62.5" rx="15" fill="#153f63" stroke="#68a7e2" stroke-width="3.5"/><path d="M392 600.2 C460 599 560 599.4 632 600.8" stroke="#68a7e2" stroke-width="1.6" fill="none"/>
  <!-- green box -->
  <rect x="680" y="331" width="582.2" height="101" rx="19" fill="#023c0b" stroke="#62ab68" stroke-width="3"/>
  <!-- right boxes -->
  <rect x="1313.8" y="327.8" width="278" height="61.5" rx="15" fill="#153f63" stroke="#68a7e2" stroke-width="3.5"/>
  <rect x="1313.8" y="467.5" width="278.5" height="61.8" rx="15" fill="#153f63" stroke="#68a7e2" stroke-width="3.5"/>
  <rect x="1313.8" y="606" width="277.5" height="61.5" rx="15" fill="#2a1e04" stroke="#cf832d" stroke-width="3.5"/>
  <!-- bottom box -->
  <rect x="466.3" y="720.5" width="1138.8" height="74.5" rx="15" fill="#281d03" stroke="#cf832d" stroke-width="3.3"/>
  </g>

  <!-- mono texts -->
  <g class="mono">
    <text transform="translate(466,268) scale(1,1.09)" font-size="29.7" fill="#dadada" stroke="#dadada" stroke-width="0.85">03 — THE AMBIENT BUSINESS</text>
    <text transform="translate(681.5,365.1) scale(1,1.08)" font-size="19.65" fill="#66aa6c" stroke="#66aa6c" stroke-width="0.45">AMBIENT BUSINESS: Runs with zero daily human</text>
    <text transform="translate(1212,365.1)" font-size="12" fill="#4c7a50">:</text>
    <text transform="translate(491.5,757.7) scale(1,1.08)" font-size="19.8" fill="#d9892f" stroke="#d9892f" stroke-width="0.45">Some of these will do 8 figures. Not crazy — already happening.</text>
  </g>

  <!-- handwritten texts -->
  <g font-family="Liberation Sans" font-size="16" fill="#94c3ee">
    <text x="386" y="353.3" letter-spacing="0.95">Agent monitors market</text>
    <text x="386.2" y="492.9" letter-spacing="1.04">Agent identifies opportunities</text>
    <svg x="0" y="580" width="643" height="70" overflow="hidden"><text x="386.2" y="52" letter-spacing="1.54">Agent executes trades or purchases</text></svg>
    <text x="1325.8" y="358" letter-spacing="1.3">Agent fulfills orders</text>
    <text x="1326.4" y="496.4" letter-spacing="0.91">Agent handles customer service</text>
    <text x="1325.8" y="636" letter-spacing="0.65" fill="#de9038">Founder checks in once a week</text>
  </g>

  <!-- arrows -->
  <g stroke="#62b068" stroke-width="3.2" fill="none" stroke-linecap="round" stroke-linejoin="round">
    <path d="M565 360 L499 354 M530 344 L499 354 L528 367"/>
    <path d="M563 380 L500 493 M523 474 L500 493 L503 465"/><path d="M566 381 L540 428" stroke-width="1.8"/>
    <path d="M565 401 L501 633 M519 607 L501 633 L497 602"/>
    <path d="M1235 364 L1312 358 M1281 350 L1312 358 L1283 372"/><path d="M1236 366.5 L1300 361" stroke-width="1.8"/>
    <path d="M1235 382 L1312 496 M1287 477 L1312 496 L1306 466"/>
    <path d="M1237.5 402 L1312 638" stroke-width="4.2"/><path d="M1293 614 L1312 638 L1310 606"/>
  </g>
</svg>

<!-- TOOLBAR -->
<div class="island" style="left:725px;top:71px;width:400px;height:31px;background:#232329;border-radius:7px;"></div>
<div class="abs" style="left:795px;top:74px;width:26px;height:25.5px;border-radius:5px;background:#45437a;"></div>
<!-- BOTTOM LEFT -->
<div class="island" style="left:185px;top:869px;width:7px;height:26px;border-radius:0 6px 6px 0;background:#1b1b1e;"></div>
<div class="island" style="left:199.5px;top:869px;width:52.5px;height:25.6px;"></div>
<div class="island" style="left:265px;top:869px;width:26.3px;height:25.6px;"></div>
<div class="island" style="left:298.6px;top:869px;width:26px;height:25.6px;"></div>

<!-- TOP RIGHT -->
<div class="island" style="left:1658.3px;top:71px;width:25.6px;height:26.3px;background:#1f1f22;"></div>
<div class="abs" style="left:1692px;top:71px;width:8.5px;height:26.3px;border-radius:6px 0 0 6px;background:#afa8f7;"></div>

<svg width="1720" height="962">
 <g stroke="#bdbdc2" stroke-width="1.5" fill="none" stroke-linecap="round" stroke-linejoin="round">
  <!-- lock (unlocked) -->
  <rect x="736" y="85.2" width="9.5" height="7.3" rx="1.8"/>
  <path d="M737.8 85.2 V83.2 A3 3 0 0 1 743.8 82.4"/>
  <circle cx="740.7" cy="88.9" r="0.5" fill="#bdbdc2"/>
  <!-- hand -->
  <path d="M775 88 C773.5 86.5 773.6 85.2 774.8 85 L776.2 86.2 V82.6 C776.2 81.4 777.6 81.1 778 82.3 V81.6 C778.2 80.4 779.8 80.5 780 81.6 V82.2 C780.4 81.2 781.8 81.4 782 82.5 V83.3 C782.4 82.6 783.8 82.8 783.8 84 V88.5 C783.8 91.5 782 93 779.2 93 C777.5 93 776.2 92 775 88 Z"/>
  <path d="M776.2 86.2 V88 M778 82.3 V86 M780 81.6 V86 M782 82.5 V86" stroke-width="1.1"/>
  <!-- rectangle -->
  <rect x="832.3" y="81.6" width="10.3" height="10.3" rx="2"/>
  <!-- diamond -->
  <path d="M866.6 81.5 L872 86.9 L866.6 92.3 L861.2 86.9 Z" stroke-linejoin="round"/>
  <!-- circle -->
  <circle cx="895.9" cy="86.9" r="5.4"/>
  <!-- arrow -->
  <path d="M921 86.9 H929.5 M926 83.4 L929.5 86.9 L926 90.4" stroke-width="1.7"/>
  <!-- line -->
  <path d="M950.3 86.9 H958.8" stroke-width="1.9"/>
  <!-- pencil -->
  <path d="M979.5 92 L980.2 88.7 L986.2 82.7 C987 81.9 988.2 81.9 989 82.7 C989.8 83.5 989.8 84.7 989 85.5 L983 91.5 Z M985 84 L987.8 86.8"/>
  <!-- A -->
  <text x="1007.8" y="91.7" font-family="Liberation Sans" font-weight="bold" font-size="14.6" fill="#bdbdc2" stroke="none">A</text>
  <!-- image -->
  <rect x="1037.3" y="81.5" width="10.6" height="11" rx="2"/>
  <path d="M1037.5 88.5 C1039.5 86.5 1041 86 1042.5 87.8 C1044 89.5 1045.5 89.2 1047.5 87.3 M1044.5 84.3 H1046.3" stroke-width="1.2"/>
  <!-- eraser -->
  <path d="M1072.5 92.2 H1077.8 M1074.6 92.2 L1077.6 89.2 C1078.3 88.5 1078.3 87.5 1077.6 86.8 L1074.5 83.7 C1073.8 83 1072.8 83 1072.1 83.7 L1067.8 88 C1067.1 88.7 1067.1 89.7 1067.8 90.4 L1069.6 92.2 Z M1071 85 L1076.3 90.3" stroke-width="1.5"/>
  <!-- shapes -->
  <path d="M1109.7 81.6 L1111.9 85.3 H1107.5 Z" stroke-width="1.4"/>
  <circle cx="1106.4" cy="90.1" r="2.1" stroke-width="1.4"/>
  <circle cx="1112.9" cy="90.1" r="2.1" stroke-width="1.4"/>
  <!-- undo / redo -->
  <path d="M209 880 H214.5 C216.5 880 218 881.5 218 883.3 C218 885.1 216.5 886.6 214.5 886.6 H213.5 M211.6 877.3 L209 880 L211.6 882.7" stroke="#c4c4c8" stroke-width="1.6"/>
  <path d="M242.5 880 H237 C235 880 233.5 881.5 233.5 883.3 C233.5 885.1 235 886.6 237 886.6 H238 M239.9 877.3 L242.5 880 L239.9 882.7" stroke="#4e4e52" stroke-width="1.6"/>
  <!-- comment -->
  <path d="M273.8 887.5 L274.6 884.8 C273.6 883.2 273.5 881 274.6 879.4 C276.3 876.7 280.2 876.2 282.4 878.3 C284.5 880.2 284.4 883.6 282.2 885.4 C280.6 886.8 278.4 887 276.6 886.3 Z" stroke="#c4c4c8"/>
  <!-- presentation -->
  <path d="M306.2 877.2 H317 M306.8 877.2 V884.8 C306.8 885.4 307.2 885.8 307.8 885.8 H315.4 C316 885.8 316.4 885.4 316.4 884.8 V877.2 M311.6 885.8 V888.5 M309.6 888.6 H313.6 M309 883 L311 881.2 L312.6 882.4 L314.2 880.4" stroke="#c4c4c8" stroke-width="1.4"/>
  <!-- phone -->
  <path d="M1667.4 79.5 C1666.4 80.5 1666.2 82.5 1667.6 84.8 C1669 87.2 1671 89 1673.3 89.8 C1675 90.4 1676.3 90 1676.8 89.3 L1676.9 88 L1674.6 86.6 L1673.3 87.6 C1671.8 86.9 1670.3 85.4 1669.4 83.8 L1670.3 82.4 L1668.9 79.9 Z" stroke="#c4c4c8" stroke-width="1.3"/>
 </g>
 <!-- selection cursor fill -->
 <path d="M804.3 83 L813 86.6 L809.4 87.9 L812.6 91.1 L811.6 92.1 L808.4 88.9 L807.2 91.7 Z" fill="#d9d6ff" stroke="#d9d6ff" stroke-width="0.6" stroke-linejoin="round"/>
 <!-- shortcut numbers -->
 <g font-family="Liberation Sans" font-size="5.5" fill="#4a4a50">
  <text x="815.5" y="95.5" fill="#8a88b8">1</text>
  <text x="845" y="95.5">2</text>
  <text x="874.3" y="95.5">3</text>
  <text x="903.6" y="95.5">4</text>
  <text x="932.8" y="95.5">5</text>
  <text x="962" y="95.5">6</text>
  <text x="991.5" y="95.5">7</text>
  <text x="1021" y="95.5">8</text>
  <text x="1050.5" y="95.5">9</text>
  <text x="1079.8" y="95.5">0</text>
 </g>
 <!-- hint -->
 <g font-family="Liberation Sans" font-size="7.35" fill="#58585c">
  <text x="783.7" y="119.8">To move canvas, hold</text>
  <rect x="856.8" y="111.3" width="52.6" height="11.7" rx="2.2" fill="none" stroke="#4c4c50" stroke-width="0.9"/>
  <text transform="translate(859,119.8) scale(1,1.15)" font-family="Liberation Mono" font-size="6.75" fill="#606064">Scroll wheel</text>
  <text x="912.3" y="119.8">or</text>
  <rect x="921.7" y="111.3" width="24.6" height="11.7" rx="2.2" fill="none" stroke="#4c4c50" stroke-width="0.9"/>
  <text transform="translate(924.2,119.8) scale(1,1.15)" font-family="Liberation Mono" font-size="6.6" fill="#606064">Space</text>
  <text x="949.5" y="119.8">while dragging, or use the hand tool</text>
 </g>
 <!-- zZ -->
 <text x="184.5" y="88.8" font-family="Liberation Sans" font-size="10.5" font-weight="bold" fill="#b4b4b4">zZ</text>
 <!-- mouse cursor -->
 <path d="M881.8 588 L888.2 594 L885.6 594.6 L886.6 597.6 L884.6 598.2 L883.6 595.4 L881.6 596.6 Z" fill="#080808" stroke="#8c8c8c" stroke-width="1.3" stroke-linejoin="round"/>
</svg>

<!-- WEBCAM -->
<div class="abs" style="left:15px;top:303px;width:236px;height:296px;border-radius:9px;overflow:hidden;box-shadow:-1px 2px 5px rgba(0,0,0,0.28);background:#141212;">
<svg width="236" height="296" viewBox="15 303 236 296" style="position:absolute;left:0;top:0;">
 <defs>
  <filter id="bl2" x="-20%" y="-20%" width="140%" height="140%"><feGaussianBlur stdDeviation="2"/></filter>
  <filter id="bl3" x="-20%" y="-20%" width="140%" height="140%"><feGaussianBlur stdDeviation="3.5"/></filter>
  <filter id="bl1" x="-10%" y="-10%" width="120%" height="120%"><feGaussianBlur stdDeviation="0.7"/></filter>
  <linearGradient id="wood" x1="0" y1="0" x2="0" y2="1">
   <stop offset="0" stop-color="#8a5a38"/><stop offset="0.5" stop-color="#b07440"/><stop offset="1" stop-color="#c48a52"/>
  </linearGradient>
  <linearGradient id="skinR" x1="0" y1="0" x2="1" y2="0">
   <stop offset="0" stop-color="#c79a84"/><stop offset="0.45" stop-color="#d8b4a0"/><stop offset="0.75" stop-color="#e6d2c6"/><stop offset="1" stop-color="#d8bcac"/>
  </linearGradient>
  <linearGradient id="hairG" x1="0" y1="0" x2="1" y2="1">
   <stop offset="0" stop-color="#47352a"/><stop offset="0.6" stop-color="#544233"/><stop offset="1" stop-color="#6a5e56"/>
  </linearGradient>
 </defs>
 <!-- background shelves -->
 <g filter="url(#bl2)">
  <rect x="10" y="298" width="250" height="310" fill="url(#wood)"/>
  <rect x="150" y="298" width="110" height="38" fill="#5a3c2c"/>
  <rect x="212" y="300" width="45" height="30" fill="#dcd6d2"/>
  <rect x="197" y="314" width="11" height="13" fill="#d2c8c0"/>
  <rect x="168" y="334" width="90" height="6" fill="#f0d8a8"/>
  <rect x="165" y="340" width="28" height="80" fill="#8a4e2c"/><rect x="165" y="420" width="28" height="95" fill="#b06c3a"/>
  <rect x="191" y="298" width="8" height="220" fill="#a48a70"/>
  <rect x="199" y="340" width="58" height="77" fill="#b47642"/>
  <rect x="213" y="352" width="40" height="49" fill="#e4dc9c"/>
  <rect x="220" y="370" width="22" height="24" fill="#e6d450"/>
  <rect x="209" y="401" width="46" height="17" fill="#587a78"/>
  <rect x="194" y="399" width="11" height="14" fill="#d6ccc4"/>
  <rect x="165" y="417" width="92" height="7" fill="#b8966e"/>
  <rect x="199" y="424" width="58" height="80" fill="#c4844a"/>
  <circle cx="246" cy="466" r="14" fill="#3e4c30"/>
  <rect x="218" y="467" width="24" height="23" fill="#e8e4e6"/>
  <circle cx="230" cy="482" r="5" fill="#e07a40"/>
  <rect x="196" y="480" width="22" height="14" fill="#dcd6d0"/>
  <rect x="208" y="493" width="48" height="9" fill="#34405a"/>
  <rect x="160" y="503" width="100" height="25" fill="#c09060"/>
  <rect x="10" y="430" width="9" height="70" fill="#a86c40"/>
 </g>
 <!-- face -->
 <g filter="url(#bl2)">
  <path d="M20 415 C24 390 40 365 70 358 C95 354 118 358 135 368 C152 380 163 400 165 425 L168 470 C166 500 162 515 155 530 C145 552 125 570 104 571 C80 571 60 555 50 535 C42 518 30 505 22 490 C18 470 18 440 20 415 Z" fill="url(#skinR)"/>
  <path d="M126 372 C145 382 158 402 162 425 L165 470 L150 470 C145 440 140 400 120 375 Z" fill="#e2d6ce"/>
  <path d="M163 425 C170 418 180 424 181 440 C181 460 176 478 165 484 Z" fill="#cf9a7c"/>
  <!-- eyes -->
  <ellipse cx="57.5" cy="446" rx="9.5" ry="4" fill="#4a3028"/>
  <ellipse cx="122.7" cy="442" rx="9.5" ry="4" fill="#4a3028"/>
  <path d="M42 438 C52 433 64 433 72 438" stroke="#9a7060" stroke-width="2.5" fill="none"/>
  <path d="M108 436 C118 431 130 431 138 436" stroke="#b08a78" stroke-width="2.5" fill="none"/>
  <!-- nose -->
  <path d="M104 456 C108 472 110 485 108 495 C102 500 92 500 88 494 C94 485 100 470 100 456 Z" fill="#e6d4ca"/>
  <ellipse cx="84" cy="496" rx="5" ry="2.6" fill="#9c6e60"/>
  <ellipse cx="106" cy="497" rx="5" ry="2.4" fill="#b08474"/>
  <!-- left cheek shade -->
  <path d="M22 470 C30 495 42 505 48 520 L36 522 C28 505 20 490 20 470 Z" fill="#b48470"/>
  <!-- mouth -->
  <path d="M68 516 C80 512 108 511 122 514 C118 526 100 533 90 533 C78 531 71 524 68 516 Z" fill="#c08e84"/>
  <path d="M76 517 C86 515.5 104 515 116 516.5 C106 519.5 86 520 76 517 Z" fill="#d0b4aa"/>
  <path d="M67 515 C80 512 106 510 123 513" stroke="#8a5a50" stroke-width="1.2" fill="none"/>
  <!-- stubble / chin -->
  <path d="M66 540 C82 558 116 560 136 546 C128 564 110 571 96 570 C80 567 70 555 66 540 Z" fill="#b89888"/>
  <path d="M118 540 C125 530 135 520 145 515 C140 535 130 550 118 560 Z" fill="#d8ccc6"/>
 </g>
 <!-- hair -->
 <g filter="url(#bl2)">
  <path d="M10 298 H152 C160 315 168 330 172 350 C176 375 176 400 170 425 L162 424 C157 404 148 385 135 372 C122 362 105 357 88 356 C60 356 38 365 28 385 C22 398 21 412 21 430 L10 430 Z" fill="url(#hairG)"/>
  <path d="M60 335 C90 318 130 322 150 345 C125 335 95 332 60 342 Z" fill="#54443a" opacity="0.6"/>
  <path d="M115 312 C135 318 150 332 160 352 C146 340 132 328 112 320 Z" fill="#52443a" opacity="0.6"/>
  <path d="M150 370 C160 385 166 400 168 420 L163 420 C160 400 155 385 148 375 Z" fill="#6e6460"/>
 </g>
 <!-- shirt -->
 <g filter="url(#bl1)">
  <path d="M10 500 C22 498 34 502 42 510 C50 540 70 568 104 573 C130 573 148 550 154 526 C156 512 157 500 158 495 C175 500 185 508 200 515 C225 522 245 526 260 530 V610 H10 Z" fill="#161414"/>
  <path d="M200 575 C220 568 240 568 255 572 V605 H195 Z" fill="#262424"/>
  <path d="M212 590 C225 582 240 580 252 580" stroke="#3a3838" stroke-width="2" fill="none"/>
 </g>
 <!-- glasses -->
 <g fill="none" stroke="#171010" stroke-linecap="round" filter="url(#bl1)">
  <ellipse cx="48.4" cy="450.5" rx="31.5" ry="23.8" stroke-width="2.6"/>
  <ellipse cx="132.6" cy="446.6" rx="33" ry="23.8" stroke-width="2.6"/>
  <path d="M17.5 446 C20 432 35 427 48 427 C62 427 75 432 80 442" stroke-width="5"/>
  <path d="M100 440 C104 428 118 423 132 423 C148 423 160 428 166 438" stroke-width="5"/>
  <path d="M78 433 C86 431 94 431 101 433" stroke-width="5"/>
  <path d="M160 428 L168 426" stroke-width="5"/>
  <path d="M14 432 L20 436" stroke-width="4"/>
 </g>
 <g fill="#ffffff" opacity="0.6" filter="url(#bl1)">
  <circle cx="25" cy="452" r="1.5"/>
  <circle cx="106" cy="448" r="1.3"/>
 </g>
</svg>
</div>
</body></html>
